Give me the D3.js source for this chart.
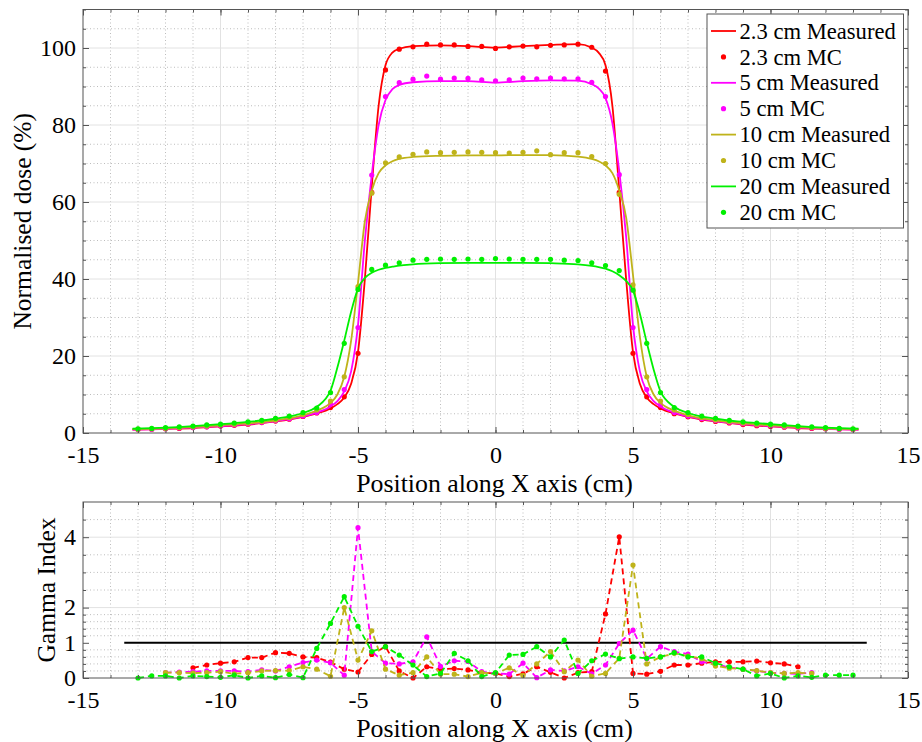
<!DOCTYPE html>
<html>
<head>
<meta charset="utf-8">
<script src="https://cdn.jsdelivr.net/npm/d3@7"></script>
<style>
body { margin: 0; background: #fff; }
svg text { font-family: "Liberation Serif", "Times New Roman", serif; fill: #000; }
</style>
</head>
<body>
<svg id="chart" width="922" height="742"></svg>
<script>
// ---------- DATA ----------
var depths = ["2.3 cm", "5 cm", "10 cm", "20 cm"];
var colors = ["#ff0000", "#ff00ff", "#bfb31a", "#00f000"];

// MC sample positions (cm)
var mcX = [-13, -12.5, -12, -11.5, -11, -10.5, -10, -9.5, -9, -8.5, -8, -7.5, -7, -6.5, -6, -5.5, -5, -4.5, -4, -3.5,
  -3, -2.5, -2, -1.5, -1, -0.5, 0, 0.5, 1, 1.5, 2, 2.5, 3, 3.5, 4, 4.5, 5, 5.5, 6, 6.5,
  7, 7.5, 8, 8.5, 9, 9.5, 10, 10.5, 11, 11.5, 12, 12.5, 13];

var mcRed = [0.9, 1.0, 1.1, 1.2, 1.4, 1.6, 1.8, 2.0, 2.3, 2.7, 3.1, 3.6, 4.3, 5.2, 6.6, 9.4, 20.7, 62.5, 94.3, 99.7,
  100.3, 101.0, 100.8, 100.8, 100.4, 100.4, 99.9, 100.3, 100.5, 100.3, 100.7, 100.8, 101.0, 100.2, 94.0, 62.5, 20.7, 9.4, 6.6, 5.0,
  4.2, 3.5, 3.0, 2.6, 2.2, 1.9, 1.7, 1.5, 1.3, 1.2, 1.1, 1.0, 0.9];
var mcMag = [0.9, 1.0, 1.1, 1.3, 1.4, 1.6, 1.9, 2.1, 2.4, 2.8, 3.2, 3.7, 4.4, 5.3, 7.5, 11.3, 27.4, 67.0, 87.4, 91.0,
  91.9, 92.7, 91.9, 92.2, 92.1, 91.7, 91.5, 91.7, 92.2, 92.0, 92.2, 92.0, 92.0, 91.1, 87.4, 67.1, 27.4, 11.3, 7.3, 5.3,
  4.4, 3.7, 3.2, 2.8, 2.4, 2.1, 1.9, 1.6, 1.4, 1.3, 1.1, 1.0, 0.9];
var mcOli = [1.0, 1.1, 1.2, 1.4, 1.6, 1.8, 2.1, 2.3, 2.6, 3.0, 3.4, 4.0, 4.8, 6.0, 8.3, 14.6, 38.0, 62.3, 70.2, 71.7,
  72.4, 73.0, 72.8, 72.9, 73.0, 72.9, 72.8, 72.7, 72.9, 73.3, 72.3, 72.8, 72.8, 71.8, 70.0, 62.0, 38.5, 14.6, 8.3, 6.0,
  4.8, 4.0, 3.4, 3.0, 2.6, 2.3, 2.1, 1.8, 1.6, 1.4, 1.2, 1.1, 1.0];
var mcGrn = [1.1, 1.2, 1.4, 1.6, 1.8, 2.1, 2.3, 2.6, 2.9, 3.3, 3.8, 4.4, 5.3, 6.5, 10.5, 23.3, 37.3, 42.5, 43.6, 44.2,
  44.9, 45.1, 45.2, 45.1, 45.2, 45.1, 45.3, 45.2, 45.1, 45.1, 45.1, 44.9, 44.8, 44.2, 43.5, 42.2, 37.1, 23.3, 10.5, 6.6,
  5.3, 4.4, 3.8, 3.3, 2.9, 2.6, 2.3, 2.1, 1.8, 1.6, 1.4, 1.2, 1.1];

// measured profile positions (cm)
var msX = [-13.2, -12, -11, -10, -9, -8, -7, -6.5, -6, -5.75, -5.5, -5.25, -5, -4.75, -4.5, -4.25, -4, -3.75, -3.5, -3,
  -2, -1, 0, 1, 2, 3, 3.5, 3.75, 4, 4.25, 4.5, 4.75, 5, 5.25, 5.5, 5.75, 6, 6.5, 7, 8,
  9, 10, 11, 12, 13.2];

var msRed = [0.9, 1.1, 1.3, 1.7, 2.2, 3.0, 4.2, 5.1, 6.4, 7.5, 9.2, 12.8, 21, 40, 64, 85, 95.5, 98.8, 99.8, 100.5,
  100.7, 100.5, 100.1, 100.5, 100.8, 101.0, 100.1, 98.8, 95.5, 85, 63, 40, 21, 12.8, 9.2, 7.5, 6.4, 5.1, 4.2, 3.0,
  2.2, 1.7, 1.3, 1.1, 0.9];
var msMag = [0.9, 1.1, 1.4, 1.8, 2.3, 3.1, 4.3, 5.3, 6.9, 8.3, 10.8, 16, 28, 50, 67, 80, 86.5, 89.3, 90.4, 91.1,
  91.4, 91.4, 91.0, 91.4, 91.6, 91.5, 90.6, 89.5, 87, 80.5, 68, 51, 28, 16, 10.8, 8.3, 6.9, 5.3, 4.3, 3.1,
  2.3, 1.8, 1.4, 1.1, 0.9];
var msOli = [1.0, 1.2, 1.5, 2.0, 2.5, 3.3, 4.6, 5.8, 7.8, 10, 14.6, 24, 39, 55, 63, 67.5, 69.5, 70.6, 71.2, 71.7,
  72.0, 72.1, 72.1, 72.2, 72.2, 71.8, 71.2, 70.6, 69.5, 67.5, 63, 56, 41, 25, 14.6, 10, 7.8, 5.8, 4.6, 3.3,
  2.5, 2.0, 1.5, 1.2, 1.0];
var msGrn = [1.1, 1.4, 1.8, 2.3, 2.9, 3.7, 5.2, 6.8, 11, 17, 24, 31.5, 37.5, 40.3, 41.6, 42.4, 42.9, 43.2, 43.5, 43.8,
  44.1, 44.2, 44.2, 44.2, 44.1, 43.8, 43.4, 43.1, 42.7, 42.0, 41.0, 39.5, 37.0, 31, 23.5, 16.5, 10.8, 6.8, 5.2, 3.7,
  2.9, 2.3, 1.8, 1.4, 1.1];

// gamma index at MC positions (null = no point)
var gRed = [null, null, null, null, 0.29, 0.37, 0.42, 0.46, 0.58, 0.58, 0.72, 0.70, 0.60, 0.58, 0.45, 0.25, 0.17, 0.67, 0.89, 0.20,
  0.0, 0.32, 0.25, 0.27, 0.23, 0.15, 0.13, 0.04, 0.12, 0.32, 0.16, 0.0, 0.15, 0.18, 1.82, 4.01, 0.13, 0.11, 0.19, 0.37,
  0.37, 0.42, 0.46, 0.46, 0.46, 0.48, 0.43, 0.40, 0.32, null, null, null, null];
var gMag = [null, null, 0.15, 0.17, 0.18, 0.20, 0.20, 0.20, 0.18, 0.23, 0.20, 0.32, 0.44, 0.51, 0.43, 0.08, 4.27, 0.75, 0.42, 0.40,
  0.46, 1.17, 0.33, 0.49, 0.47, 0.18, 0.13, 0.11, 0.42, 0.01, 0.23, 0.20, 0.32, 0.12, 0.37, 0.98, 1.36, 0.55, 0.89, 0.75,
  0.68, 0.46, 0.40, 0.30, 0.25, 0.20, 0.15, 0.13, 0.12, 0.15, null, null, null];
var gOli = [null, null, 0.15, 0.15, 0.14, 0.15, 0.18, 0.12, 0.15, 0.20, 0.21, 0.21, 0.32, 0.25, 0.05, 2.00, 0.51, 1.34, 0.25, 0.08,
  0.15, 0.60, 0.11, 0.11, 0.04, 0.15, 0.13, 0.29, 0.07, 0.40, 0.75, 0.18, 0.51, 0.05, 0.13, 0.56, 3.21, 0.40, 0.60, 0.70,
  0.62, 0.55, 0.34, 0.28, 0.25, 0.21, 0.15, 0.13, 0.15, 0.13, null, null, null];
var gGrn = [0.0, 0.06, 0.06, 0.0, 0.06, 0.04, 0.02, 0.08, 0.0, 0.06, 0.01, 0.10, 0.01, 0.84, 1.55, 2.31, 1.47, 0.75, 0.89, 0.65,
  0.37, 0.04, 0.13, 0.70, 0.49, 0.04, 0.15, 0.65, 0.67, 0.89, 0.60, 1.08, 0.13, 0.49, 0.68, 0.55, 0.60, 0.56, 0.60, 0.72,
  0.60, 0.60, 0.42, 0.32, 0.25, 0.06, 0.13, 0.0, 0.06, 0.02, 0.08, 0.08, 0.08];

var gammaLimit = 1;
var gammaLimitX = [-13.5, 13.5];

var xTicks = [-15, -10, -5, 0, 5, 10, 15];
var yTicksTop = [0, 20, 40, 60, 80, 100];
var yTicksBot = [0, 1, 2, 4];
var yMinorBot = [0.2, 0.4, 0.6, 0.8, 1.2, 1.4, 1.6, 1.8, 2.5, 3, 3.5, 4.5];

var mcSets = [mcRed, mcMag, mcOli, mcGrn];
var msSets = [msRed, msMag, msOli, msGrn];
var gSets = [gRed, gMag, gOli, gGrn];

// ---------- LAYOUT ----------
var svg = d3.select("#chart");
var L = 83, R = 908;
var x = d3.scaleLinear().domain([-15, 15]).range([L, R]);
var yTop = d3.scaleLinear().domain([0, 110]).range([433, 9.5]);
var yBot = d3.scaleLinear().domain([0, 5]).range([678, 502]);

var xMinor = d3.range(-15, 16, 1);
var yMinorTop = d3.range(0, 111, 5);

function panel(y, yMajor, yMinor) {
  var g = svg.append("g");
  var y0 = y.range()[0], y1 = y.range()[1];

  // grid
  g.selectAll(".gxm").data(xMinor.filter(function(d) { return xTicks.indexOf(d) < 0; }))
    .enter().append("line")
    .attr("x1", x).attr("x2", x).attr("y1", y0).attr("y2", y1)
    .attr("stroke", "#bdbdbd").attr("stroke-width", 1).attr("stroke-dasharray", "1,2.5");
  g.selectAll(".gym").data(yMinor.filter(function(d) { return yMajor.indexOf(d) < 0; }))
    .enter().append("line")
    .attr("x1", L).attr("x2", R).attr("y1", y).attr("y2", y)
    .attr("stroke", "#bdbdbd").attr("stroke-width", 1).attr("stroke-dasharray", "1,2.5");
  g.selectAll(".gx").data(xTicks.slice(1, -1))
    .enter().append("line")
    .attr("x1", x).attr("x2", x).attr("y1", y0).attr("y2", y1)
    .attr("stroke", "#e2e2e2").attr("stroke-width", 1);
  g.selectAll(".gy").data(yMajor.filter(function(d) { return d > 0 && d != 1; }))
    .enter().append("line")
    .attr("x1", L).attr("x2", R).attr("y1", y).attr("y2", y)
    .attr("stroke", "#e2e2e2").attr("stroke-width", 1);
  return g;
}

function frame(y, yMajor, yMinor) {
  var g = svg.append("g");
  var y0 = y.range()[0], y1 = y.range()[1];
  var fmt = function(d) { return String(d); };

  g.append("g").attr("transform", "translate(0," + y0 + ")")
    .call(d3.axisBottom(x).tickValues(xMinor).tickSize(-3).tickFormat(""));
  g.append("g").attr("transform", "translate(0," + y1 + ")")
    .call(d3.axisTop(x).tickValues(xMinor).tickSize(-3).tickFormat(""));
  g.append("g").attr("transform", "translate(" + L + ",0)")
    .call(d3.axisLeft(y).tickValues(yMinor).tickSize(-3).tickFormat(""));
  g.append("g").attr("transform", "translate(" + R + ",0)")
    .call(d3.axisRight(y).tickValues(yMinor).tickSize(-3).tickFormat(""));

  g.append("g").attr("class", "xax").attr("transform", "translate(0," + y0 + ")")
    .call(d3.axisBottom(x).tickValues(xTicks).tickSize(-6).tickPadding(13).tickFormat(fmt));
  g.append("g").attr("transform", "translate(0," + y1 + ")")
    .call(d3.axisTop(x).tickValues(xTicks).tickSize(-6).tickFormat(""));
  g.append("g").attr("class", "yax").attr("transform", "translate(" + L + ",0)")
    .call(d3.axisLeft(y).tickValues(yMajor).tickSize(-6).tickPadding(7).tickFormat(fmt));
  g.append("g").attr("transform", "translate(" + R + ",0)")
    .call(d3.axisRight(y).tickValues(yMajor).tickSize(-6).tickFormat(""));

  g.selectAll(".domain").remove();
  g.selectAll(".tick line").attr("stroke", "#555");
  g.selectAll(".tick text").style("font-size", "24px")
    .style("font-family", "'Liberation Serif', serif").attr("fill", "#000");
  g.selectAll(".yax .tick text").attr("dy", "0.3em");

  g.append("rect").attr("x", L).attr("y", y1).attr("width", R - L).attr("height", y0 - y1)
    .attr("fill", "none").attr("stroke", "#555").attr("stroke-width", 1);
}

// ---------- TOP: DOSE PROFILES ----------
panel(yTop, yTicksTop, yMinorTop);

var profLine = d3.line().x(function(d) { return x(d[0]); }).y(function(d) { return yTop(d[1]); })
  .curve(d3.curveMonotoneX);

depths.forEach(function(name, i) {
  var ms = msX.map(function(v, k) { return [v, msSets[i][k]]; });
  svg.append("path").datum(ms).attr("d", profLine)
    .attr("fill", "none").attr("stroke", colors[i]).attr("stroke-width", 1.8);
  svg.append("g").selectAll("circle")
    .data(mcX.map(function(v, k) { return [v, mcSets[i][k]]; }))
    .enter().append("circle")
    .attr("cx", function(d) { return x(d[0]); })
    .attr("cy", function(d) { return yTop(d[1]); })
    .attr("r", 2.6).attr("fill", colors[i]);
});

frame(yTop, yTicksTop, yMinorTop);

// legend
var leg = svg.append("g").attr("transform", "translate(707,14)");
leg.append("rect").attr("width", 196.5).attr("height", 214)
  .attr("fill", "#fff").attr("stroke", "#555").attr("stroke-width", 1);
depths.forEach(function(name, i) {
  var yM = 17 + (2 * i) * 25.9, yC = 17 + (2 * i + 1) * 25.9;
  leg.append("line").attr("x1", 4).attr("x2", 29).attr("y1", yM).attr("y2", yM)
    .attr("stroke", colors[i]).attr("stroke-width", 1.8);
  leg.append("text").attr("x", 32.5).attr("y", yM).attr("dy", "0.34em")
    .style("font-size", "22.6px").text(name + " Measured");
  leg.append("circle").attr("cx", 16.5).attr("cy", yC).attr("r", 2.6).attr("fill", colors[i]);
  leg.append("text").attr("x", 32.5).attr("y", yC).attr("dy", "0.34em")
    .style("font-size", "22.6px").text(name + " MC");
});

svg.append("text").attr("x", (L + R) / 2 - 1).attr("y", 492).attr("text-anchor", "middle")
  .style("font-size", "25.8px").text("Position along X axis (cm)");
svg.append("text").attr("transform", "translate(31," + (433 + 9.5) / 2 + ") rotate(-90)")
  .attr("text-anchor", "middle").style("font-size", "25.5px").text("Normalised dose (%)");

// ---------- BOTTOM: GAMMA INDEX ----------
panel(yBot, yTicksBot, yMinorBot);

svg.append("line")
  .attr("x1", x(gammaLimitX[0])).attr("x2", x(gammaLimitX[1]))
  .attr("y1", yBot(gammaLimit)).attr("y2", yBot(gammaLimit))
  .attr("stroke", "#000").attr("stroke-width", 2);

var gLine = d3.line().defined(function(d) { return d[1] != null; })
  .x(function(d) { return x(d[0]); }).y(function(d) { return yBot(d[1]); });

depths.forEach(function(name, i) {
  var pts = mcX.map(function(v, k) { return [v, gSets[i][k]]; });
  svg.append("path").datum(pts).attr("d", gLine)
    .attr("fill", "none").attr("stroke", colors[i]).attr("stroke-width", 1.8)
    .attr("stroke-dasharray", "6,4");
  svg.append("g").selectAll("circle")
    .data(pts.filter(function(d) { return d[1] != null; }))
    .enter().append("circle")
    .attr("cx", function(d) { return x(d[0]); })
    .attr("cy", function(d) { return yBot(d[1]); })
    .attr("r", 2.6).attr("fill", colors[i]);
});

frame(yBot, yTicksBot, yMinorBot);

svg.append("text").attr("x", (L + R) / 2 - 1).attr("y", 737).attr("text-anchor", "middle")
  .style("font-size", "25.8px").text("Position along X axis (cm)");
svg.append("text").attr("transform", "translate(55,590) rotate(-90)")
  .attr("text-anchor", "middle").style("font-size", "25.5px").text("Gamma Index");
</script>
</body>
</html>
